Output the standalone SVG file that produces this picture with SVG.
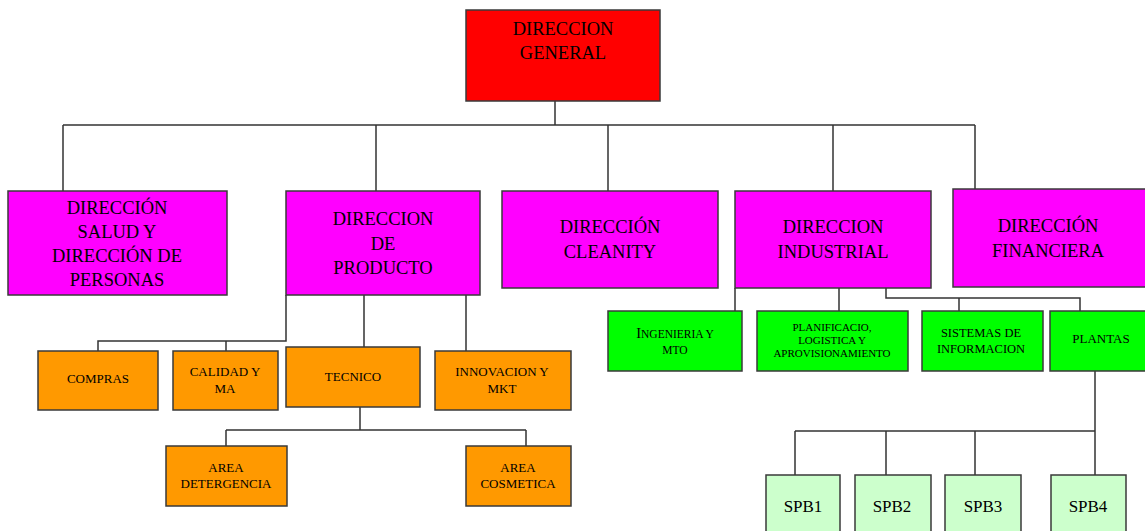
<svg xmlns="http://www.w3.org/2000/svg" width="1145" height="531" viewBox="0 0 1145 531">
<style>
.box{stroke:#3a3a3a;stroke-width:1.5}
.red{fill:#ff0000}
.mag{fill:#ff00ff}
.org{fill:#ff9900}
.grn{fill:#00ff00}
.lg{fill:#ccffcc}
text{font-family:"Liberation Serif","Times New Roman",serif;fill:#000;text-anchor:middle}
.big{font-size:18.5px}
.mid{font-size:13px}
.sm{font-size:11.5px}
.spb{font-size:17px}
#conn path{fill:none;stroke:#333;stroke-width:1.5}
</style>
<rect width="1145" height="531" fill="#fff"/>
<g id="conn">
<path d="M555 101V125M63 125H975M63 125V191M376 125V191M608 125V191M833 125V191M975 125V189"/>
<path d="M286 295V341H98V351M226 341V351M364 295V347M466 295V351"/>
<path d="M360 407V430M226 430H526M226 430V446M526 430V446"/>
<path d="M735 288V311M839 288V311M886 288V298H1080V311M959 298V311"/>
<path d="M1095 371V475M795 431H1095M795 431V475M886 431V475M975 431V475"/>
</g>
<g id="n-general"><rect class="box red" x="466" y="10" width="194" height="91"/><text class="big" x="563" y="35">DIRECCION</text><text class="big" x="563" y="59">GENERAL</text></g>
<g id="n-salud"><rect class="box mag" x="8" y="191" width="219" height="104"/><text class="big" x="117" y="214">DIRECCIÓN</text><text class="big" x="117" y="238">SALUD Y</text><text class="big" x="117" y="262">DIRECCIÓN  DE</text><text class="big" x="117" y="286">PERSONAS</text></g>
<g id="n-producto"><rect class="box mag" x="286" y="191" width="194" height="104"/><text class="big" x="383" y="225">DIRECCION</text><text class="big" x="383" y="250">DE</text><text class="big" x="383" y="274">PRODUCTO</text></g>
<g id="n-cleanity"><rect class="box mag" x="502" y="191" width="216" height="97"/><text class="big" x="610" y="233">DIRECCIÓN</text><text class="big" x="610" y="258">CLEANITY</text></g>
<g id="n-industrial"><rect class="box mag" x="735" y="191" width="196" height="97"/><text class="big" x="833" y="233">DIRECCION</text><text class="big" x="833" y="258">INDUSTRIAL</text></g>
<g id="n-financiera"><rect class="box mag" x="953" y="189" width="196" height="98"/><text class="big" x="1048" y="232">DIRECCIÓN</text><text class="big" x="1048" y="257">FINANCIERA</text></g>
<g id="n-compras"><rect class="box org" x="38" y="351" width="120" height="59"/><text class="mid" x="98" y="383">COMPRAS</text></g>
<g id="n-calidad"><rect class="box org" x="173" y="351" width="105" height="59"/><text class="mid" x="225" y="376">CALIDAD Y</text><text class="mid" x="225" y="393">MA</text></g>
<g id="n-tecnico"><rect class="box org" x="286" y="347" width="134" height="60"/><text class="mid" x="353" y="381">TECNICO</text></g>
<g id="n-innovacion"><rect class="box org" x="435" y="351" width="136" height="59"/><text class="mid" x="502" y="376">INNOVACION Y</text><text class="mid" x="502" y="393">MKT</text></g>
<g id="n-detergencia"><rect class="box org" x="166" y="446" width="121" height="60"/><text class="mid" x="226" y="472">AREA</text><text class="mid" x="226" y="488">DETERGENCIA</text></g>
<g id="n-cosmetica"><rect class="box org" x="466" y="446" width="105" height="60"/><text class="mid" x="518" y="472">AREA</text><text class="mid" x="518" y="488">COSMETICA</text></g>
<g id="n-ingenieria"><rect class="box grn" x="608" y="311" width="134" height="60"/><text class="sm" x="675" y="338"><tspan font-size="14.5px">I</tspan>NGENIERIA Y</text><text class="sm" x="675" y="354">MTO</text></g>
<g id="n-planificacion"><rect class="box grn" x="757" y="311" width="151" height="60"/><text x="832" y="331" font-size="11px">PLANIFICACIO,</text><text x="832" y="344" font-size="11px">LOGISTICA Y</text><text x="832" y="357" font-size="11px">APROVISIONAMIENTO</text></g>
<g id="n-sistemas"><rect class="box grn" x="922" y="311" width="121" height="60"/><text x="981" y="337" font-size="12.5px">SISTEMAS  DE</text><text x="981" y="353" font-size="12.5px">INFORMACION</text></g>
<g id="n-plantas"><rect class="box grn" x="1050" y="311" width="102" height="60"/><text class="mid" x="1101" y="343">PLANTAS</text></g>
<g id="n-spb1"><rect class="box lg" x="766" y="475" width="74" height="70"/><text class="spb" x="803" y="512">SPB1</text></g>
<g id="n-spb2"><rect class="box lg" x="855" y="475" width="76" height="70"/><text class="spb" x="892" y="512">SPB2</text></g>
<g id="n-spb3"><rect class="box lg" x="945" y="475" width="76" height="70"/><text class="spb" x="983" y="512">SPB3</text></g>
<g id="n-spb4"><rect class="box lg" x="1051" y="475" width="75" height="70"/><text class="spb" x="1088" y="512">SPB4</text></g>
</svg>
